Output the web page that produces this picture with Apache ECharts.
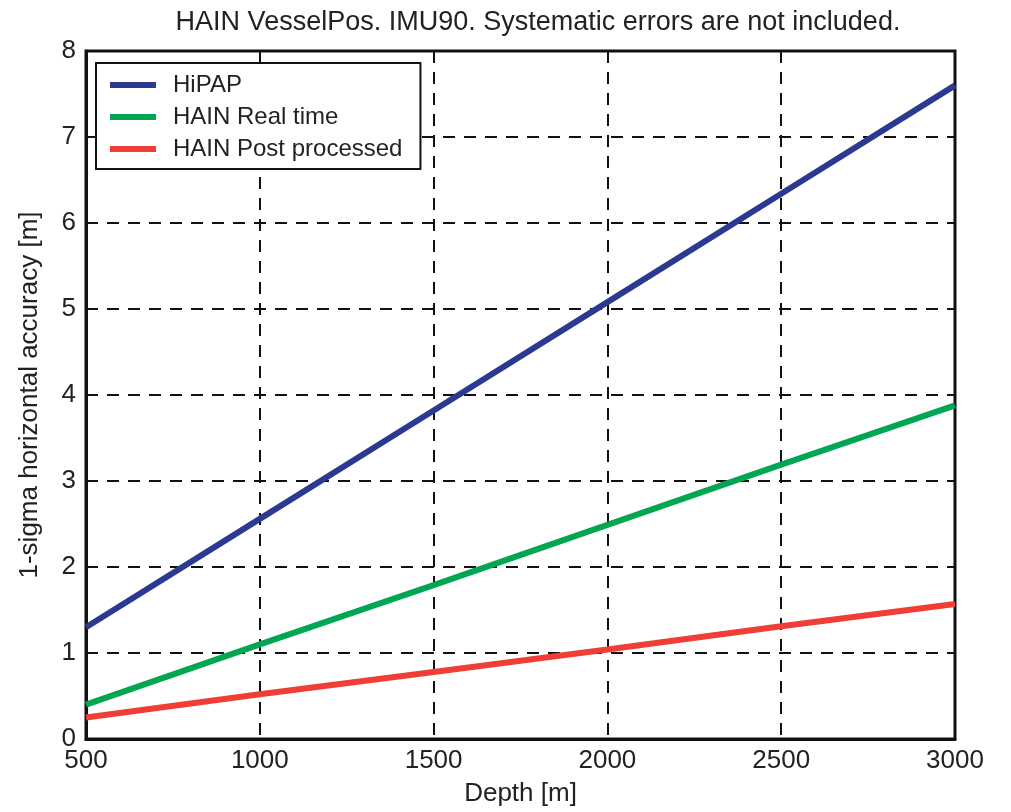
<!DOCTYPE html>
<html>
<head>
<meta charset="UTF-8">
<title>HAIN VesselPos</title>
<script src="https://cdn.jsdelivr.net/npm/echarts@6/dist/echarts.min.js"></script>
<style>
  html, body { margin: 0; padding: 0; background: #fff; }
  #chart { width: 1011px; height: 812px; }
</style>
</head>
<body>
<div id="chart"></div>
<script>
// depth values along the x axis
var depth = [500, 1000, 1500, 2000, 2500, 3000];
// 1-sigma horizontal accuracy
var hipap = [1.3, 2.56, 3.82, 5.08, 6.34, 7.6];
var hainRealTime = [0.4, 1.1, 1.79, 2.49, 3.19, 3.88];
var hainPost = [0.25, 0.52, 0.78, 1.04, 1.31, 1.57];

var names = ['HiPAP', 'HAIN Real time', 'HAIN Post processed'];
var colors = ['#2b3990', '#00a651', '#ef3e36'];
var values = [hipap, hainRealTime, hainPost];

var font = 'Liberation Sans, Arial, sans-serif';

var chart = echarts.init(document.getElementById('chart'));

var series = names.map(function (n, i) {
  return {
    name: n,
    type: 'line',
    showSymbol: false,
    symbol: 'none',
    lineStyle: { color: colors[i], width: 6 },
    itemStyle: { color: colors[i] },
    data: depth.map(function (d, j) { return [d, values[i][j]]; })
  };
});

chart.setOption({
  backgroundColor: '#fff',
  animation: false,
  title: {
    text: 'HAIN VesselPos. IMU90. Systematic errors are not included.',
    left: 533, top: 4, textAlign: 'center',
    textStyle: { fontFamily: font, fontSize: 27, fontWeight: 'normal', color: '#222' }
  },
  grid: {
    left: 86, right: 56, top: 51, bottom: 72,
    show: true, borderColor: '#111', borderWidth: 3
  },
  legend: {
    orient: 'vertical',
    left: 96, top: 63,
    data: names,
    icon: 'rect',
    itemWidth: 46, itemHeight: 6,
    itemGap: 8,
    padding: [10, 18, 8, 14],
    backgroundColor: '#fff',
    borderColor: '#111', borderWidth: 2,
    textStyle: { fontFamily: font, fontSize: 24, color: '#222', padding: [0, 0, 0, 12] }
  },
  xAxis: {
    type: 'value',
    min: 500, max: 3000, interval: 500,
    name: 'Depth [m]', nameLocation: 'middle', nameGap: 42,
    nameTextStyle: { fontFamily: font, fontSize: 26, color: '#222' },
    axisLine: { show: true, lineStyle: { color: '#111', width: 3 } },
    axisTick: { show: false },
    axisLabel: { fontFamily: font, fontSize: 26, color: '#222', margin: 9,
      formatter: function (v) { return String(v); } },
    splitLine: { show: true, lineStyle: { color: '#111', width: 2, type: [12, 9] } }
  },
  yAxis: {
    type: 'value',
    min: 0, max: 8, interval: 1,
    name: '1-sigma horizontal accuracy [m]', nameLocation: 'middle', nameGap: 43,
    nameTextStyle: { fontFamily: font, fontSize: 26, color: '#222' },
    axisLine: { show: true, lineStyle: { color: '#111', width: 3 } },
    axisTick: { show: false },
    axisLabel: { fontFamily: font, fontSize: 26, color: '#222', margin: 10 },
    splitLine: { show: true, lineStyle: { color: '#111', width: 2, type: [12, 9] } }
  },
  series: series
});
</script>
</body>
</html>
